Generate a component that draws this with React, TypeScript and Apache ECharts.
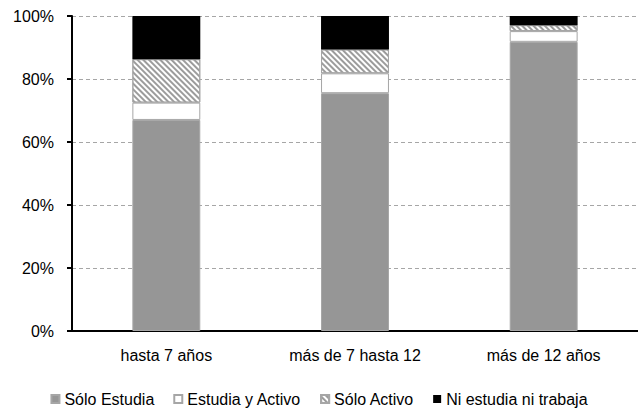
import React, { useEffect, useRef } from "react";
import * as echarts from "echarts";

// Tramos de antigüedad
const categories = ["hasta 7 años", "más de 7 hasta 12", "más de 12 años"];

// Distribución porcentual por condición
const soloEstudia = [67.0, 75.5, 91.8];
const estudiaYActivo = [5.5, 6.3, 3.4];
const soloActivo = [13.8, 7.6, 1.9];
const niEstudiaNiTrabaja = [13.7, 10.6, 2.9];

const seriesNames = ["Sólo Estudia", "Estudia y Activo", "Sólo Activo", "Ni estudia ni trabaja"];

const yTicks = [0, 20, 40, 60, 80, 100];

const FONT = "'Liberation Sans', Arial, sans-serif";
const FONT_SIZE = 16;

export default function App() {
  const ref = useRef<HTMLDivElement>(null);

  useEffect(() => {
    document.body.style.margin = "0";
    if (!ref.current) return;
    const chart = echarts.init(ref.current, null, { renderer: "svg" });

    const border = "#a6a6a6";
    const gray = "#969696";

    const option: any = {
      animation: false,
      backgroundColor: "#ffffff",
      textStyle: { fontFamily: FONT },
      grid: { left: 72, top: 16, width: 579, height: 315, containLabel: false },
      legend: {
        top: 386,
        left: "center",
        itemWidth: 8,
        itemHeight: 8,
        itemGap: 19,
        icon: "rect",
        textStyle: { fontFamily: FONT, fontSize: FONT_SIZE, color: "#000" },
        data: seriesNames,
      },
      xAxis: {
        type: "category",
        data: categories,
        axisLine: { lineStyle: { color: "#000", width: 2 } },
        axisTick: { show: false },
        axisLabel: { fontFamily: FONT, fontSize: FONT_SIZE, color: "#000", margin: 16 },
      },
      yAxis: {
        type: "value",
        min: yTicks[0],
        max: yTicks[yTicks.length - 1],
        interval: 20,
        axisLine: { show: true, lineStyle: { color: "#000", width: 2 } },
        axisTick: { show: true, length: 5, lineStyle: { color: "#000", width: 2 } },
        axisLabel: {
          fontFamily: FONT,
          fontSize: FONT_SIZE,
          color: "#000",
          margin: 18,
          formatter: "{value}%",
        },
        splitLine: { show: true, lineStyle: { color: "#a6a6a6", type: [4, 3], width: 1 } },
      },
      series: [
        {
          name: seriesNames[0],
          type: "bar",
          stack: "total",
          barWidth: "36%",
          data: soloEstudia,
          itemStyle: { color: gray, borderColor: border, borderWidth: 1 },
        },
        {
          name: seriesNames[1],
          type: "bar",
          stack: "total",
          data: estudiaYActivo,
          itemStyle: { color: "#ffffff", borderColor: border, borderWidth: 1 },
        },
        {
          name: seriesNames[2],
          type: "bar",
          stack: "total",
          data: soloActivo,
          itemStyle: {
            color: "#ffffff",
            borderColor: border,
            borderWidth: 1,
            decal: {
              symbol: "rect",
              symbolSize: 1,
              dashArrayX: [1, 0],
              dashArrayY: [2, 2],
              rotation: Math.PI / 4,
              color: "#9c9c9c",
            },
          },
        },
        {
          name: seriesNames[3],
          type: "bar",
          stack: "total",
          data: niEstudiaNiTrabaja,
          itemStyle: { color: "#000000" },
        },
      ],
    };

    chart.setOption(option);
    return () => chart.dispose();
  }, []);

  return <div ref={ref} style={{ width: 638, height: 412 }} />;
}
